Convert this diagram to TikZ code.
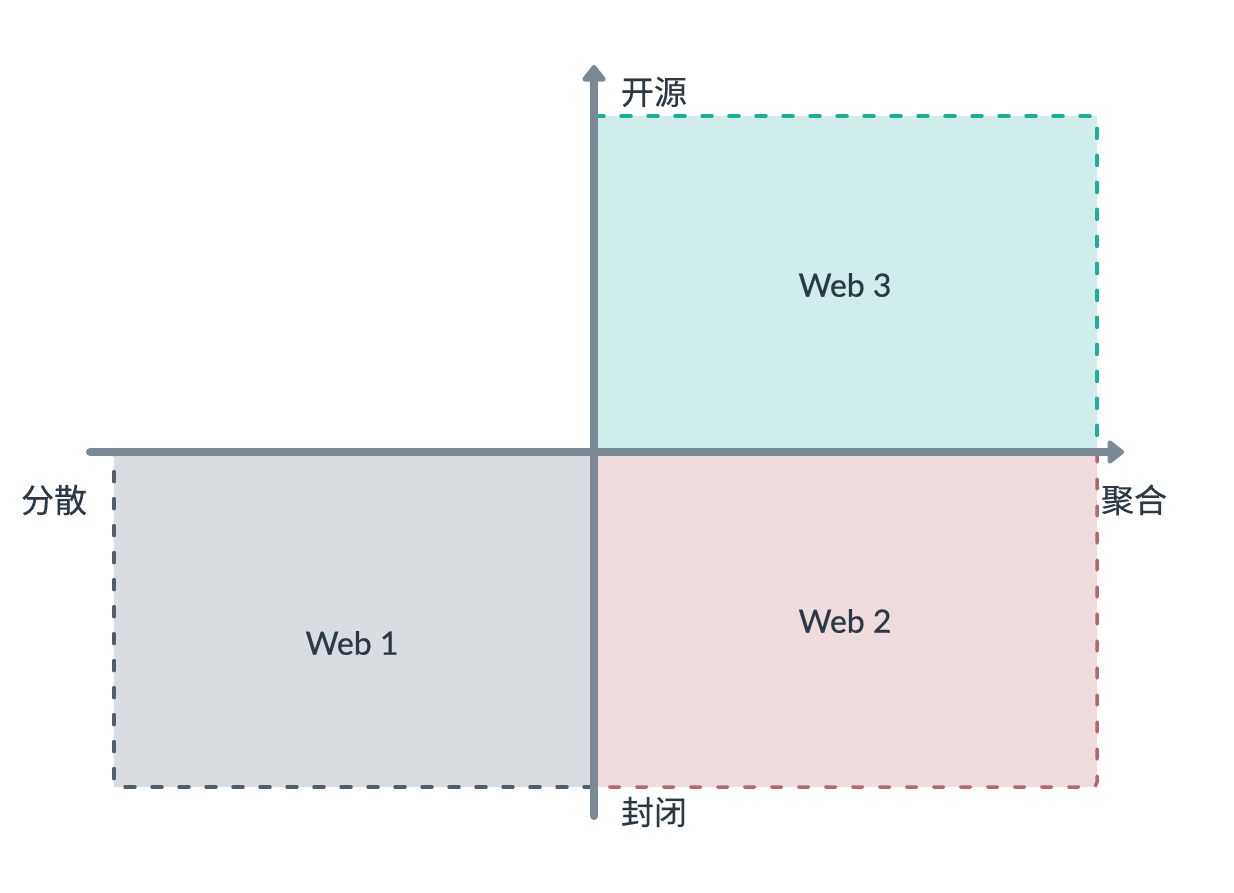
\documentclass[tikz,border=0pt]{standalone}
\usepackage{fontspec}
\setmainfont{Lato}
\newfontfamily\weblat{Lato}[FakeBold=0.6]
\newfontfamily\cjk{Noto Sans CJK SC}[FakeBold=0.3]
\usetikzlibrary{arrows.meta}
\definecolor{axisc}{HTML}{7B8995}
\definecolor{txtc}{HTML}{2B3947}
\definecolor{tealfill}{HTML}{D0EDEB}
\definecolor{tealline}{HTML}{1BAE9B}
\definecolor{pinkfill}{HTML}{EFDDDD}
\definecolor{pinkline}{HTML}{B5686B}
\definecolor{grayfill}{HTML}{D9DDE1}
\definecolor{grayline}{HTML}{4E5E6C}
\tikzset{
  quad/.style={line width=3.5pt, dash pattern=on 10pt off 17pt, line cap=round, rounded corners=5pt},
  axisline/.style={line width=8pt, draw=axisc, line cap=round, -{Triangle[width=27pt,length=18pt,round]}},
  cjklabel/.style={text=txtc, font=\cjk\fontsize{33}{36}\selectfont, inner sep=0pt},
  weblabel/.style={text=txtc, font=\weblat\fontsize{32}{36}\selectfont, inner sep=0pt},
}
\begin{document}
\begin{tikzpicture}[x=1pt,y=-1pt]
\useasboundingbox (0,0) rectangle (1234,892);
% quadrants
\fill[tealfill] (594,116) rectangle (1097,452);
\fill[pinkfill] (594,452) rectangle (1097,787);
\fill[grayfill] (114,452) rectangle (594,787);
\draw[quad, draw=tealline] (594,116) -- (1097,116) -- (1097,452);
\draw[quad, draw=pinkline] (1097,452) -- (1097,787) -- (594,787);
\draw[quad, draw=grayline] (594,787) -- (114,787) -- (114,452);
% axes
\coordinate (xs) at (90,452);
\coordinate (xe) at (1124,452);
\coordinate (ys) at (594,816);
\coordinate (ye) at (594,65);
\draw[axisline] (xs) -- (xe);
\draw[axisline] (ys) -- (ye);
% labels
\node[cjklabel] (open) at (654,92) {开源};
\node[cjklabel] (agg) at (1134,500) {聚合};
\node[cjklabel] (dec) at (54,500) {分散};
\node[cjklabel] (closed) at (654,812) {封闭};
\node[weblabel] (w3) at (845,285) {Web 3};
\node[weblabel] (w2) at (845,621) {Web 2};
\node[weblabel] (w1) at (352,643) {Web 1};
\end{tikzpicture}
\end{document}
